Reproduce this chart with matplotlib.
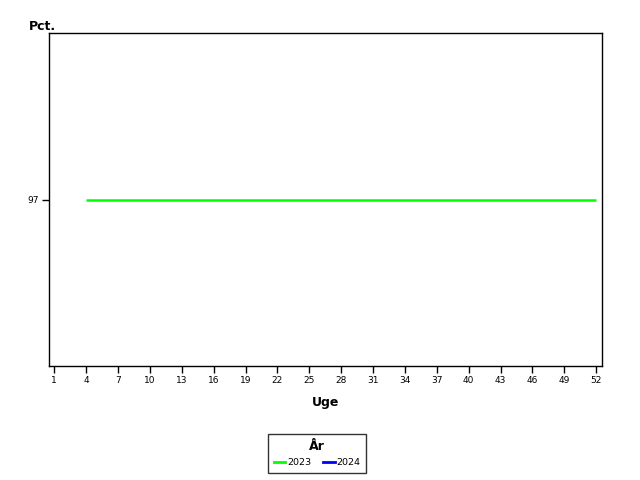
import matplotlib
matplotlib.use("Agg")
import matplotlib.pyplot as plt
from matplotlib.lines import Line2D

weeks_2023 = list(range(4, 53))
values_2023 = [97] * len(weeks_2023)
weeks_2024 = []
values_2024 = []
xticks = list(range(1, 53, 3))
yticks = [97]

fig = plt.figure(figsize=(6.4, 4.8), dpi=100)
ax = fig.add_axes([49/640, 1-366/480, (602-49)/640, (366-33)/480])
ax.plot(weeks_2023, values_2023, color="#00ff00", lw=1.8, solid_capstyle="butt")
ax.plot(weeks_2024, values_2024, color="#0000ff", lw=1.8)
ax.set_xlim(0.5, 52.55)
ax.set_ylim(96, 98)
ax.set_xticks(xticks)
ax.set_xticklabels([str(t) for t in xticks], fontsize=6.5)
ax.set_yticks(yticks)
ax.set_yticklabels([str(t) for t in yticks], fontsize=6.5)
ax.tick_params(direction="out", length=5, width=1, pad=2)
for s in ax.spines.values():
    s.set_linewidth(1)
ax.set_xlabel("Uge", fontsize=9, fontweight="bold", labelpad=8)
fig.text(42/640, 1-27/480, "Pct.", fontsize=9, fontweight="bold", ha="center", va="center")

handles = [Line2D([], [], color="#00ff00", lw=2), Line2D([], [], color="#0000ff", lw=2)]
leg = fig.legend(handles, ["2023", "2024"], title="År", loc="center",
                 bbox_to_anchor=(317/640, 1-453.5/480), ncol=2, fontsize=6.8,
                 title_fontproperties={"weight": "bold", "size": 9},
                 frameon=True, fancybox=False, edgecolor="black",
                 handlelength=1.2, handletextpad=0.2, columnspacing=1.3,
                 borderpad=0.6)
leg.get_frame().set_linewidth(1)
fig.savefig("out.png", dpi=100)
